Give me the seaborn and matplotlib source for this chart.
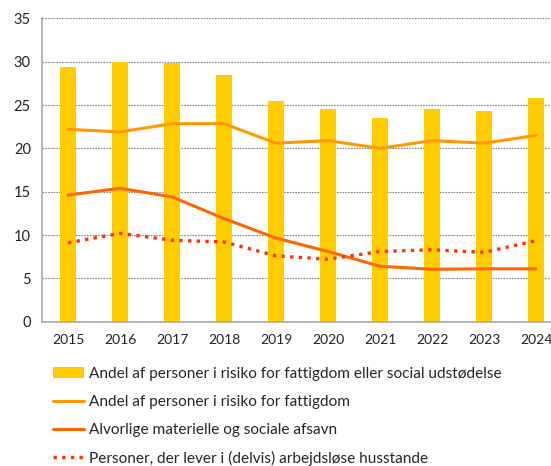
import numpy as np
import pandas as pd
import matplotlib
matplotlib.use("Agg")
import matplotlib.pyplot as plt
import seaborn as sns

# Data
years = ["2015", "2016", "2017", "2018", "2019", "2020", "2021", "2022", "2023", "2024"]
risk_poverty_exclusion = [29.4, 30.0, 29.8, 28.5, 25.5, 24.5, 23.5, 24.6, 24.3, 25.8]
risk_poverty = [22.2, 21.9, 22.85, 22.85, 20.6, 20.9, 20.0, 20.9, 20.6, 21.5]
severe_deprivation = [14.6, 15.4, 14.4, 11.9, 9.65, 8.1, 6.4, 6.05, 6.1, 6.1]
jobless_households = [9.1, 10.2, 9.4, 9.2, 7.6, 7.2, 8.1, 8.3, 8.0, 9.35]

labels = [
    "Andel af personer i risiko for fattigdom eller social udstødelse",
    "Andel af personer i risiko for fattigdom",
    "Alvorlige materielle og sociale afsavn",
    "Personer, der lever i (delvis) arbejdsløse husstande",
]

sns.set_style("white")
plt.rcParams["font.family"] = ["Lato", "DejaVu Sans"]

df = pd.DataFrame({
    "year": years,
    "pos": np.arange(len(years)),
    "bar": risk_poverty_exclusion,
    "poverty": risk_poverty,
    "deprivation": severe_deprivation,
    "jobless": jobless_households,
})

fig = plt.figure(figsize=(5.51, 4.66), dpi=100)
# plot area runs past the right edge of the picture, like in the reference
ax = fig.add_axes([42 / 551, 0.3097, 520 / 551, 0.6508])

sns.barplot(data=df, x="pos", y="bar", color="#FFCC00", width=0.32,
            saturation=1, native_scale=True, ax=ax, label=labels[0], zorder=2,
            linewidth=0)
sns.lineplot(data=df, x="pos", y="poverty", color="#FF9900", lw=2.2,
             ax=ax, label=labels[1], zorder=3)
sns.lineplot(data=df, x="pos", y="deprivation", color="#FF6600", lw=2.2,
             ax=ax, label=labels[2], zorder=3)
sns.lineplot(data=df, x="pos", y="jobless", color="#FF3300", lw=2.4,
             ax=ax, label=labels[3], zorder=3, linestyle=(0, (1, 1.6)))

ax.set_xlim(-0.5, len(years) - 0.5)
ax.set_ylim(0, 35)
ax.set_yticks(np.arange(0, 36, 5))
ax.set_xticks(df["pos"])
ax.set_xticklabels(years)
ax.set_xticks(np.arange(-0.5, len(years), 1), minor=True)
ax.tick_params(axis="x", which="major", length=0, pad=9, labelsize=10, colors="#222222")
ax.tick_params(axis="x", which="minor", length=5, width=1, color="#999999")
ax.tick_params(axis="y", length=3, width=1, color="#999999", labelsize=10.5,
               colors="#222222", pad=5)
ax.tick_params(axis="y", labelcolor="#222222")
ax.set_xlabel("")
ax.set_ylabel("")
ax.grid(axis="y", linestyle=(0, (1.5, 1)), color="#888888", lw=0.8, zorder=0)
ax.set_axisbelow(True)
for side in ["top", "right"]:
    ax.spines[side].set_visible(False)
for side in ["left", "bottom"]:
    ax.spines[side].set_color("#aaaaaa")
    ax.spines[side].set_linewidth(1.2)

handles, lbls = ax.get_legend_handles_labels()
if ax.legend_:
    ax.legend_.remove()
order = [lbls.index(l) for l in labels]
fig.legend([handles[i] for i in order], [lbls[i] for i in order],
           loc="upper left", bbox_to_anchor=(47 / 551, 1 - 361 / 466),
           frameon=False, fontsize=11.1, handlelength=2.0, handletextpad=0.3,
           labelspacing=0.9, borderaxespad=0)

fig.savefig("out.png", dpi=100)
